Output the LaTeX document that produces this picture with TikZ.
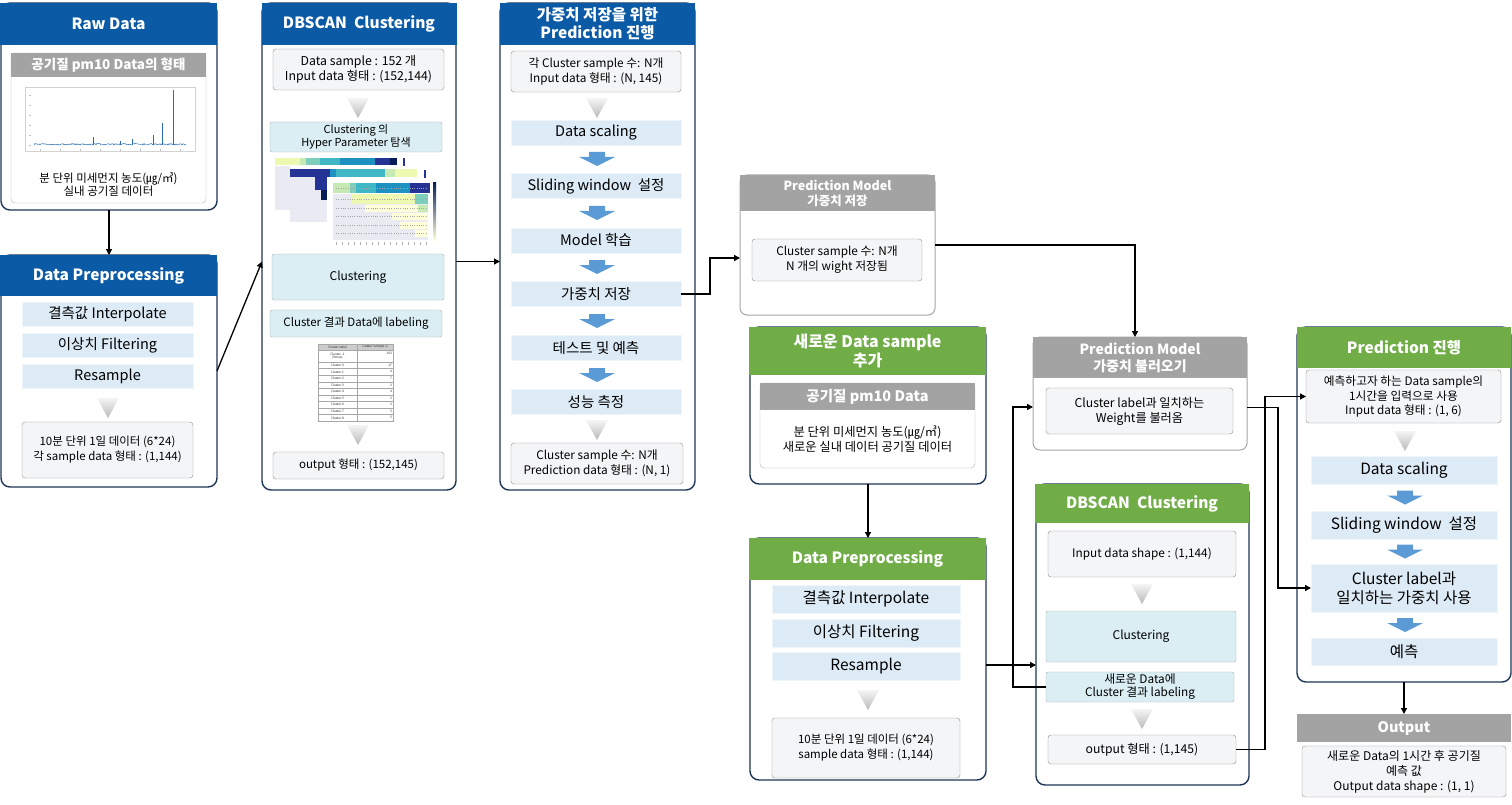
\documentclass[tikz,border=0pt]{standalone}
\usepackage{fontspec}
\setmainfont{Noto Sans CJK KR}
\usetikzlibrary{arrows.meta,calc}
\definecolor{hblue}{HTML}{0B5AA6}
\definecolor{hgreen}{HTML}{70AD47}
\definecolor{hgray}{HTML}{A3A3A3}
\definecolor{navy}{HTML}{1F3557}
\definecolor{itemblue}{HTML}{DDEBF7}
\definecolor{clblue}{HTML}{DAEEF3}
\definecolor{infofill}{HTML}{F4F5F7}
\definecolor{infoline}{HTML}{8F8F8F}
\definecolor{arrblue}{HTML}{5B9BD5}
\definecolor{plotblue}{HTML}{2B6CB0}
\definecolor{hmgray}{HTML}{EAEAF2}
\definecolor{ya}{HTML}{FFFFD9}
\definecolor{yb}{HTML}{EDF8B1}
\definecolor{yc}{HTML}{C7E9B4}
\definecolor{yd}{HTML}{7FCDBB}
\definecolor{ye}{HTML}{41B6C4}
\definecolor{yf}{HTML}{1D91C0}
\definecolor{yg}{HTML}{225EA8}
\definecolor{yh}{HTML}{253494}
\definecolor{yi}{HTML}{081D58}
\tikzset{
  panel/.style={draw=navy, line width=1.4pt, rounded corners=9pt, fill=white, inner sep=0pt, outer sep=0pt},
  graypanel/.style={draw=gray!70, line width=1pt, rounded corners=7pt, fill=white, inner sep=0pt, outer sep=0pt},
  hdr/.style={inner sep=0pt, outer sep=0pt, text=white, align=center, font=\bfseries\fontsize{15.5}{19}\selectfont},
  hb/.style={hdr, fill=hblue},
  hg/.style={hdr, fill=hgreen},
  hy/.style={hdr, fill=hgray},
  item/.style={fill=itemblue, draw=white!50!itemblue, line width=0.8pt, inner sep=0pt, outer sep=0pt, align=center, font=\fontsize{14.5}{18}\selectfont},
  clbox/.style={fill=clblue, draw=gray!60, rounded corners=2pt, inner sep=0pt, outer sep=0pt, align=center, font=\fontsize{11.5}{14}\selectfont},
  info/.style={fill=infofill, draw=infoline, rounded corners=3pt, inner sep=0pt, outer sep=0pt, align=center, font=\fontsize{11.8}{15}\selectfont},
  sheet/.style={fill=white, draw=gray!60, rounded corners=4pt, inner sep=0pt, outer sep=0pt},
  plain/.style={inner sep=0pt, align=center, font=\fontsize{11.5}{15}\selectfont},
  tabtxt/.style={inner sep=0pt, text=gray!30!black, font=\fontsize{3.2}{3.6}\selectfont},
  conn/.style={line width=1.3pt, -{Triangle[length=6pt,width=6pt]}},
  bluedown/.pic={\fill[arrblue] (-8,-7) -- (8,-7) -- (8,-2) -- (18,-2) -- (0,7) -- (-18,-2) -- (-8,-2) -- cycle;},
  graydown/.pic={\shade[top color=gray!8, bottom color=gray!55] (-11,-10) -- (11,-10) -- (0,10) -- cycle;},
}
\begin{document}
\begin{tikzpicture}[x=1pt,y=-1pt]
\useasboundingbox (0,0) rectangle (1512,805);
\fill[white] (0,0) rectangle (1512,805);

% ---------------- Raw Data ----------------
\node[panel, minimum width=216, minimum height=207] (raw) at (109,106.5) {};
\node[hb, minimum width=217, minimum height=42] (rawh) at (108.5,24) {Raw Data};
\node[sheet, minimum width=195, minimum height=150] (rawin) at (108.5,128) {};
\node[hy, minimum width=195, minimum height=24, font=\bfseries\fontsize{13.5}{16}\selectfont] (rawg) at (108.5,65) {공기질 pm10 Data의 형태};
% time series plot
\draw[gray!35, line width=0.4pt] (25,87) rectangle (195,151);
\foreach \t in {95,105,115,125,135,145} \draw[gray!50, line width=0.3pt] (29,\t) -- (31,\t);
\foreach \t in {40,60,80,100,120,140,160,180} \draw[gray!50, line width=0.3pt] (\t,149) -- (\t,151);
\pgfmathsetseed{11}
\draw[plotblue, line width=0.5pt] (34,145) \foreach \i in {1,...,152} {-- ({34+\i},{145-1.6*rnd})};
\draw[plotblue, line width=0.7pt] (93,145) -- (93,137) (132,145) -- (132,139) (153,145) -- (153,135)
  (162,145) -- (162,123) (173,145) -- (173,90) (120,145) -- (120,141);
\node[plain, font=\fontsize{11.5}{13}\selectfont] (rawtxt) at (108.5,184) {분 단위 미세먼지 농도(㎍/㎥)\\실내 공기질 데이터};

% ---------------- Data Preprocessing (1) ----------------
\node[panel, minimum width=216, minimum height=232] (pre1) at (109,371) {};
\node[hb, minimum width=217, minimum height=41] (pre1h) at (108.5,275.5) {Data Preprocessing};
\node[item, minimum width=171, minimum height=24] (pa) at (107.5,314) {결측값 Interpolate};
\node[item, minimum width=171, minimum height=24] (pb) at (107.5,345) {이상치 Filtering};
\node[item, minimum width=171, minimum height=24] (pc) at (107.5,376) {Resample};
\pic at (108,408) {graydown};
\node[info, minimum width=171, minimum height=56, font=\fontsize{11.5}{15}\selectfont] (pre1r) at (107.5,450) {10분 단위 1일 데이터 (6*24)\\각 sample data 형태 : (1,144)};

% ---------------- DBSCAN Clustering (1) ----------------
\node[panel, minimum width=194, minimum height=487] (dbs1) at (359,246.5) {};
\node[hb, minimum width=195, minimum height=42] (dbs1h) at (359,24) {DBSCAN~~Clustering};
\node[info, minimum width=171, minimum height=41, font=\fontsize{12.3}{15}\selectfont] (d1a) at (358.5,69.5) {Data sample : 152 개\\Input data 형태 : (152,144)};
\pic at (358,108) {graydown};
\node[clbox, minimum width=172, minimum height=30, font=\fontsize{11}{13}\selectfont] (d1b) at (356,137) {Clustering 의\\Hyper Parameter 탐색};
% hyper parameter heat maps
\fill[hmgray] (275,166) rectangle (290,210);
\foreach \a/\b/\c in {275/300/yb,300/306/yc,306/320/yd,320/340/ye,340/375/yf,375/390/yh,390/397/yi}
  \fill[\c] (\a,158) rectangle (\b,165);
\fill[yh] (403,158) rectangle (405,166);
\fill[white] (290,168) rectangle (418,224);
\foreach \a/\b/\c in {290/330/yh,330/336/yf,336/385/ye,385/395/yc,395/417/yb}
  \fill[\c] (\a,169) rectangle (\b,177);
\fill[yh] (424,170) rectangle (426,178);
\fill[hmgray] (290,177) rectangle (327,222);
\fill[yh] (315,177) rectangle (327,190);
\fill[yi] (321,190) rectangle (327,200);
\fill[white] (331,181) rectangle (438,247);
\fill[hmgray] (333,194) rectangle (428,240);
\foreach \a/\b/\c in {333/350/yc,350/356/yd,356/376/ye,376/410/yf,410/430/yh}
  \fill[\c] (\a,183) rectangle (\b,193);
\fill[yb] (352,194) rectangle (415,204); \fill[yd] (415,194) rectangle (428,204);
\fill[ya] (365,205) rectangle (418,212); \fill[yc] (418,205) rectangle (428,212);
\fill[ya] (392,213) rectangle (428,220);
\fill[ya] (400,222) rectangle (428,229);
\fill[ya] (415,230) rectangle (428,237);
\shade[top color=yi, bottom color=ya] (433,183) rectangle (436,240);
\foreach \r in {188,199,208,216,225,233} \draw[gray!70, line width=0.3pt, dotted] (336,\r) -- (426,\r);
\foreach \t in {336,342,...,426} \draw[gray!60, line width=0.3pt] (\t,242) -- (\t,245);
\node[clbox, minimum width=172, minimum height=46, font=\fontsize{12}{14}\selectfont] (d1c) at (358,277) {Clustering};
\node[clbox, minimum width=172, minimum height=27, font=\fontsize{11.5}{14}\selectfont] (d1d) at (356,323.5) {Cluster 결과 Data에 labeling};
% cluster size table
\fill[white] (318,344) rectangle (393,421);
\fill[gray!40] (318,344) rectangle (393,350);
\node[tabtxt] (tbh1) at (337.5,347) {Cluster label};
\node[tabtxt] (tbh2) at (375,347) {Cluster Sample 수};
\node[tabtxt, align=center] (tbn) at (337.5,356) {Cluster -1\\(Noise)};
\node[tabtxt, anchor=east] (tbv) at (392,353) {103};
\foreach \lab/\val [count=\k] in {0/17,1/4,2/7,3/3,4/4,5/3,6/3,7/3,8/5} {
  \node[tabtxt] (tl\k) at (337.5,{362+(\k-0.5)*6.56}) {Cluster \lab};
  \node[tabtxt, anchor=east] (tv\k) at (392,{362+(\k-0.5)*6.56}) {\val};
}
\draw[gray!70, line width=0.3pt] (318,344) rectangle (393,421) (357,344) -- (357,421) (318,350) -- (393,350);
\foreach \k in {0,...,8} \draw[gray!70, line width=0.3pt] (318,{362+\k*6.56}) -- (393,{362+\k*6.56});
\pic at (358,435) {graydown};
\node[info, minimum width=171, minimum height=27, font=\fontsize{11.5}{15}\selectfont] (d1e) at (358.5,465.5) {output 형태 : (152,145)};

% ---------------- Prediction for saving weights ----------------
\node[panel, minimum width=195, minimum height=487] (pred1) at (597.5,246.5) {};
\node[hb, minimum width=195, minimum height=42, font=\bfseries\fontsize{15.5}{18}\selectfont] (pred1h) at (597.5,24) {가중치 저장을 위한\\Prediction 진행};
\node[info, minimum width=170, minimum height=41] (p1a) at (596,71.5) {각 Cluster sample 수: N개\\Input data 형태 : (N, 145)};
\pic at (597,108) {graydown};
\node[item, minimum width=170, minimum height=25] (p1b) at (596,132.5) {Data scaling};
\node[item, minimum width=170, minimum height=25] (p1c) at (596,186) {Sliding window~~설정};
\node[item, minimum width=170, minimum height=25] (p1d) at (596,240.5) {Model 학습};
\node[item, minimum width=170, minimum height=25] (p1e) at (596,294) {가중치 저장};
\node[item, minimum width=170, minimum height=25] (p1f) at (596,348) {테스트 및 예측};
\node[item, minimum width=170, minimum height=25] (p1g) at (596,402) {성능 측정};
\foreach \yy in {159,213,267,321,375} \pic at (597,\yy) {bluedown};
\pic at (597,430) {graydown};
\node[info, minimum width=172, minimum height=41] (p1h) at (597,463.5) {Cluster sample 수: N개\\Prediction data 형태 : (N, 1)};

% ---------------- Saved model weights ----------------
\node[graypanel, minimum width=195, minimum height=140] (save) at (837.5,245) {};
\node[hy, minimum width=195, minimum height=36, font=\bfseries\fontsize{12.5}{15}\selectfont] (saveh) at (837.5,193) {Prediction Model\\가중치 저장};
\node[info, minimum width=170, minimum height=42] (savei) at (837,260) {Cluster sample 수: N개\\N 개의 wight 저장됨};

% ---------------- New data sample ----------------
\node[panel, minimum width=236, minimum height=157] (new) at (868,405.5) {};
\node[hg, minimum width=237, minimum height=48, font=\bfseries\fontsize{16}{19}\selectfont] (newh) at (867.5,351) {새로운 Data sample\\추가};
\node[sheet, minimum width=215, minimum height=85] (newin) at (867.5,425.5) {};
\node[hy, minimum width=215, minimum height=27, font=\bfseries\fontsize{14.5}{17}\selectfont] (newg) at (867.5,396.5) {공기질 pm10 Data};
\node[plain, font=\fontsize{12.3}{15}\selectfont] (newtxt) at (867.5,439.5) {분 단위 미세먼지 농도(㎍/㎥)\\새로운 실내 데이터 공기질 데이터};

% ---------------- Data Preprocessing (2) ----------------
\node[panel, minimum width=236, minimum height=242] (pre2) at (868,659) {};
\node[hg, minimum width=237, minimum height=42] (pre2h) at (867.5,559) {Data Preprocessing};
\node[item, minimum width=188, minimum height=28, font=\fontsize{15.5}{18}\selectfont] (qa) at (866,599) {결측값 Interpolate};
\node[item, minimum width=188, minimum height=28, font=\fontsize{15.5}{18}\selectfont] (qb) at (866,633) {이상치 Filtering};
\node[item, minimum width=188, minimum height=28, font=\fontsize{15.5}{18}\selectfont] (qc) at (866,666) {Resample};
\pic at (868,700) {graydown};
\node[info, minimum width=188, minimum height=60, font=\fontsize{11.5}{15}\selectfont] (pre2r) at (866,748) {10분 단위 1일 데이터 (6*24)\\sample data 형태 : (1,144)};

% ---------------- Loading model weights ----------------
\node[graypanel, minimum width=214, minimum height=113] (load) at (1140,393.5) {};
\node[hy, minimum width=214, minimum height=41, font=\bfseries\fontsize{14}{17}\selectfont] (loadh) at (1140,357.5) {Prediction Model\\가중치 불러오기};
\node[info, minimum width=187, minimum height=46, font=\fontsize{12.2}{15}\selectfont] (loadi) at (1139.5,411) {Cluster label과 일치하는\\Weight를 불러옴};

% ---------------- DBSCAN Clustering (2) ----------------
\node[panel, minimum width=213, minimum height=301] (dbs2) at (1142.5,634.5) {};
\node[hg, minimum width=214, minimum height=39] (dbs2h) at (1142,503.5) {DBSCAN~~Clustering};
\node[info, minimum width=188, minimum height=46] (d2a) at (1142,554) {Input data shape : (1,144)};
\pic at (1142,594) {graydown};
\node[clbox, minimum width=190, minimum height=51, font=\fontsize{12}{14}\selectfont] (d2b) at (1141,636.5) {Clustering};
\node[clbox, minimum width=188, minimum height=30, font=\fontsize{11.8}{13}\selectfont] (d2c) at (1140,687) {새로운 Data에\\Cluster 결과 labeling};
\pic at (1142,719) {graydown};
\node[info, minimum width=188, minimum height=29, font=\fontsize{12.2}{15}\selectfont] (d2d) at (1142,749.5) {output 형태 : (1,145)};

% ---------------- Prediction ----------------
\node[panel, minimum width=214, minimum height=355] (pred2) at (1404,504.5) {};
\node[hg, minimum width=214, minimum height=41] (pred2h) at (1404,347.5) {Prediction 진행};
\node[info, minimum width=195, minimum height=53, font=\fontsize{11.7}{14.5}\selectfont] (in3) at (1403.5,396.5) {예측하고자 하는 Data sample의\\1시간을 입력으로 사용\\Input data 형태 : (1, 6)};
\pic at (1405,441) {graydown};
\node[item, minimum width=186, minimum height=28, font=\fontsize{15.5}{18}\selectfont] (r1) at (1404,470) {Data scaling};
\node[item, minimum width=186, minimum height=28, font=\fontsize{15.5}{18}\selectfont] (r2) at (1404,525) {Sliding window~~설정};
\node[item, minimum width=186, minimum height=48, font=\fontsize{15.5}{19}\selectfont] (cl3) at (1404,588) {Cluster label과\\일치하는 가중치 사용};
\node[item, minimum width=186, minimum height=27, font=\fontsize{15.5}{18}\selectfont] (r4) at (1404,651.5) {예측};
\foreach \yy in {497.5,551.5,625} \pic at (1405,\yy) {bluedown};

% ---------------- Output ----------------
\node[hy, minimum width=214, minimum height=28, font=\bfseries\fontsize{14.5}{17}\selectfont] (outh) at (1404,728) {Output};
\node[info, minimum width=204, minimum height=51, font=\fontsize{12}{15}\selectfont] (outi) at (1404,771.5) {새로운 Data의 1시간 후 공기질\\예측 값\\Output data shape : (1, 1)};

% ---------------- connectors ----------------
\draw[conn] (raw.south) -- (pre1.north);
\draw[conn] (pre1.east) -- ([yshift=-15pt]dbs1.west);
\draw[conn] ([yshift=-15pt]dbs1.east) -- ([yshift=-15pt]pred1.west);
\draw[conn] (p1e.east) -- ++(29,0) |- ([yshift=-13pt]save.west);
\draw[conn] (save.east) -| ([xshift=-5pt]load.north);
\draw[conn] (new.south) -- (pre2.north);
\coordinate (p2o) at ([yshift=-6pt]pre2.east);
\draw[conn] (p2o) -- (p2o -| dbs2.west);
\draw[conn] (d2c.west) -- ++(-33,0) |- ([yshift=-13.5pt]load.west);
\draw[conn] (d2d.east) -- ++(29,0) |- (in3.west);
\draw[conn] ([yshift=-14pt]load.east) -- ++(31,0) |- (cl3.west);
\draw[conn] (pred2.south) -- (outh.north);
\end{tikzpicture}
\end{document}
